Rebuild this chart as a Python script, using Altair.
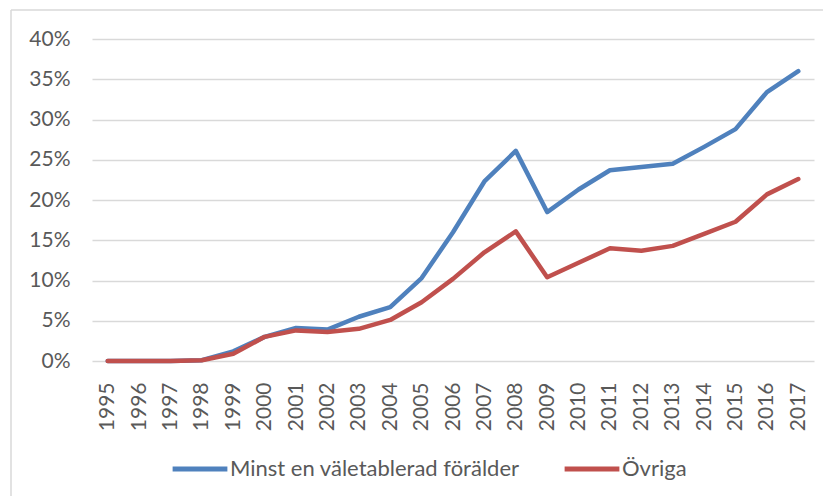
import altair as alt
import pandas as pd

years = [str(y) for y in range(1995, 2018)]
series_names = ["Minst en väletablerad förälder", "Övriga"]
blue_vals = [0.0, 0.0, 0.0, 0.1, 1.2, 3.0, 4.1, 3.9, 5.5, 6.7, 10.3, 16.0, 22.3, 26.1,
             18.5, 21.3, 23.7, 24.1, 24.5, 26.6, 28.8, 33.4, 36.0]
red_vals = [0.0, 0.0, 0.0, 0.1, 0.9, 3.0, 3.8, 3.6, 4.0, 5.1, 7.3, 10.2, 13.5, 16.1,
            10.4, 12.2, 14.0, 13.7, 14.3, 15.8, 17.3, 20.7, 22.6]
colors = ["#4F81BD", "#C0504D"]

rows = []
for i, y in enumerate(years):
    rows.append({"year": y, "value": blue_vals[i] / 100, "series": series_names[0]})
    rows.append({"year": y, "value": red_vals[i] / 100, "series": series_names[1]})
df = pd.DataFrame(rows)

FONT = "Lato"
TXT = "#595959"

lines = alt.Chart(df).mark_line(strokeWidth=4.5, strokeCap="round", strokeJoin="round").encode(
    x=alt.X("year:O", sort=years, title=None,
            scale=alt.Scale(padding=0.5),
            axis=alt.Axis(labelAngle=270, labelFontSize=21, labelColor=TXT, labelFont=FONT,
                          ticks=False, domain=False, labelPadding=21, grid=False)),
    y=alt.Y("value:Q", title=None,
            scale=alt.Scale(domain=[0, 0.4], nice=False),
            axis=alt.Axis(format=".0%", values=[0, 0.05, 0.1, 0.15, 0.2, 0.25, 0.3, 0.35, 0.4],
                          labelFontSize=21, labelColor=TXT, labelFont=FONT, ticks=False,
                          domain=False, labelPadding=22, gridColor="#D9D9D9", gridWidth=1.5)),
    color=alt.Color("series:N", sort=series_names,
                    scale=alt.Scale(domain=series_names, range=colors),
                    legend=alt.Legend(title=None, orient="none", direction="horizontal",
                                      legendX=78, legendY=400,
                                      symbolType="stroke", symbolSize=3000, symbolStrokeWidth=5,
                                      labelFontSize=22, labelColor=TXT, labelFont=FONT,
                                      labelOffset=0, columnPadding=34, labelLimit=400)),
)

border_top = alt.Chart(pd.DataFrame({"k": [0]})).mark_rule(color="#D9D9D9", strokeWidth=1.5).encode(
    x=alt.value(-81), x2=alt.value(760), y=alt.value(-29))
border_left = alt.Chart(pd.DataFrame({"k": [0]})).mark_rule(color="#D9D9D9", strokeWidth=1.5).encode(
    x=alt.value(-81), y=alt.value(-29), y2=alt.value(470))

chart = alt.layer(border_top, border_left, lines).properties(
    width=722, height=322,
    autosize=alt.AutoSizeParams(type="none"),
    padding={"left": 84, "top": 31, "right": 9, "bottom": 135},
).configure_view(stroke=None)

chart.save("out.html", embed_options={"renderer": "svg", "actions": False})
